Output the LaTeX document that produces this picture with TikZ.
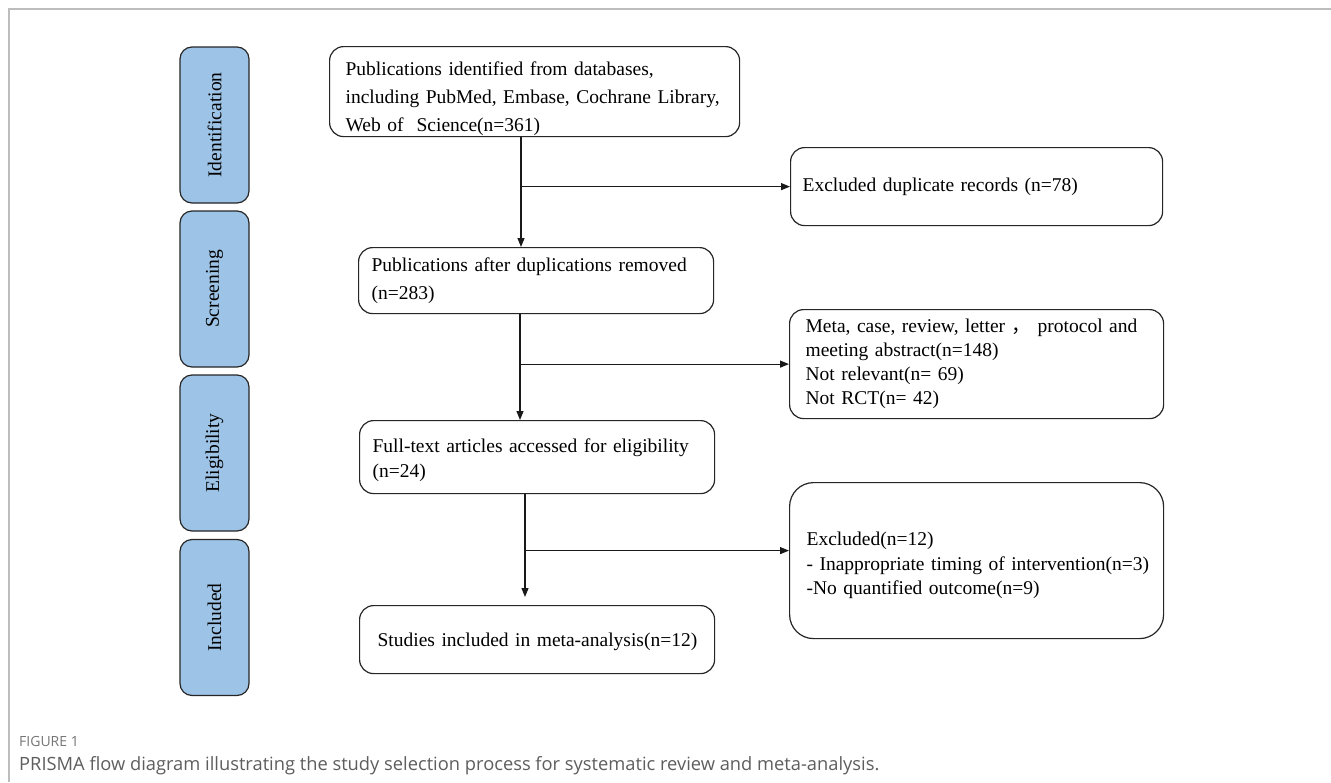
\documentclass[tikz,border=0pt]{standalone}
\usepackage{fontspec}
\setmainfont{Liberation Serif}
\newfontfamily\capfont{Open Sans}
\newfontfamily\cjkfont{Noto Sans CJK SC}
\usetikzlibrary{arrows.meta}
\definecolor{phaseblue}{HTML}{9DC3E6}
\definecolor{framegray}{HTML}{BDBDBD}
\definecolor{capgray}{HTML}{5E5E5E}
\begin{document}
\begin{tikzpicture}[x=1pt,y=-1pt,
  box/.style={draw=black!85, line width=1.2pt, rounded corners=14pt, fill=white,
    align=left, inner ysep=0pt, anchor=north west},
  phase/.style={draw=black!85, line width=1.2pt, rounded corners=12pt, fill=phaseblue,
    rotate=90, minimum width=156pt, minimum height=69pt, inner sep=0pt,
    font=\fontsize{19.5}{23}\selectfont},
  arr/.style={-{Triangle[length=9pt,width=7pt]}, line width=1.2pt, draw=black!90}
]
\useasboundingbox (0,0) rectangle (1331,782);
\fill[white] (0,0) rectangle (1331,782);
\draw[framegray, line width=1.5pt] (9,782) -- (9,9) -- (1331,9);

% phase labels
\node[phase] (ident) at (214.5,125) {Identification};
\node[phase] (screen) at (214.5,289) {Screening};
\node[phase] (elig) at (214.5,453) {Eligibility};
\node[phase] (incl) at (214.5,617.5) {Included};

% main boxes
\node[box, minimum width=410pt, minimum height=90pt, inner xsep=16pt, text width=378pt,
  font=\fontsize{19.5}{28}\selectfont] (A) at (329,46)
  {\rule{0pt}{28.5pt}\mbox{Publications identified from databases,}\\
   \mbox{including PubMed, Embase, Cochrane Library,}\\
   \mbox{Web of\ \ Science(n=361)}};
\node[box, minimum width=372pt, minimum height=78pt, inner xsep=12pt, text width=348pt,
  font=\fontsize{19.5}{24}\selectfont] (B) at (790,147)
  {\mbox{Excluded duplicate records (n=78)}};
\node[box, minimum width=355pt, minimum height=66pt, inner xsep=13pt, text width=329pt,
  font=\fontsize{19.5}{28}\selectfont] (C) at (358,247)
  {\mbox{Publications after duplications removed}\\ \mbox{(n=283)}};
\node[box, minimum width=374pt, minimum height=109pt, inner xsep=16pt, text width=342pt,
  font=\fontsize{19.5}{24}\selectfont] (D) at (789,309)
  {\mbox{Meta, case, review, letter {\cjkfont ，} protocol and}\\
   \mbox{meeting abstract(n=148)}\\
   \mbox{Not relevant(n= 69)}\\
   \mbox{Not RCT(n= 42)}};
\node[box, minimum width=355pt, minimum height=73pt, inner xsep=13pt, text width=329pt,
  font=\fontsize{19.5}{25}\selectfont] (E) at (359,420)
  {\rule{0pt}{19.5pt}\mbox{Full-text articles accessed for eligibility}\\ \mbox{(n=24)}};
\node[box, rounded corners=24pt, minimum width=374pt, minimum height=156pt, inner xsep=17pt, text width=340pt,
  font=\fontsize{19.5}{24.5}\selectfont] (F) at (789,482)
  {\rule{0pt}{23.5pt}\mbox{Excluded(n=12)}\\
   \mbox{- Inappropriate timing of intervention(n=3)}\\
   \mbox{-No quantified outcome(n=9)}};
\node[box, minimum width=355pt, minimum height=68pt, inner xsep=18pt, text width=319pt,
  font=\fontsize{19.5}{24}\selectfont] (G) at (359,605)
  {\rule{0pt}{17.5pt}\mbox{Studies included in meta-analysis(n=12)}};

% connector columns
\coordinate (v1) at (521,0);
\coordinate (v2) at (520,0);
\coordinate (v3) at (525,0);
\coordinate (Fin) at ([yshift=10pt]F.west);

\draw[arr] (A.south -| v1) -- (C.north -| v1);
\draw[arr] (v1 |- B.west) -- (B.west);
\draw[arr] (C.south -| v2) -- (E.north -| v2);
\draw[arr] (v2 |- D.west) -- (D.west);
\draw[arr, shorten >=8pt] (E.south -| v3) -- (G.north -| v3);
\draw[arr] (v3 |- Fin) -- (Fin);

% caption
\node[anchor=base west, inner sep=0pt, font=\capfont\fontsize{14}{16}\selectfont, text=capgray!85]
  (figlabel) at (19,746) {FIGURE 1};
\node[anchor=base west, inner sep=0pt, font=\capfont\fontsize{18.3}{21}\selectfont, text=capgray]
  (caption) at (19,770) {PRISMA flow diagram illustrating the study selection process for systematic review and meta-analysis.};
\end{tikzpicture}
\end{document}
